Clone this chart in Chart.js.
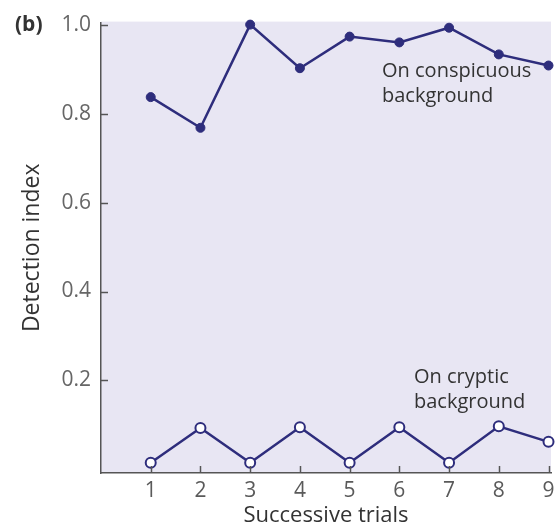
<!DOCTYPE html>
<html><head><meta charset="utf-8">
<script src="https://cdn.jsdelivr.net/npm/chart.js@4/dist/chart.umd.min.js"></script>
<style>html,body{margin:0;padding:0;background:#fff;}#wrap{width:558px;height:529px;position:relative;}</style>
</head><body><div id="wrap"><canvas id="c" width="558" height="529"></canvas></div>
<script>
const trials = [1, 2, 3, 4, 5, 6, 7, 8, 9];
const conspicuous = [0.837, 0.768, 1.0, 0.902, 0.973, 0.96, 0.993, 0.933, 0.908];
const cryptic = [0.015, 0.093, 0.015, 0.095, 0.015, 0.095, 0.015, 0.097, 0.062];
const yTicks = [0.2, 0.4, 0.6, 0.8, 1.0];
const panelLabel = "(b)";
const yTitle = "Detection index";
const xTitle = "Successive trials";
const noteTop = ["On conspicuous", "background"];
const noteBottom = ["On cryptic", "background"];

const NAVY = '#2e2d7c';
const FONT = "'Open Sans', 'Noto Sans', sans-serif";

const decor = {
  id: 'decor',
  beforeDraw(chart) {
    const {ctx, chartArea: a} = chart;
    ctx.save();
    ctx.fillStyle = '#e8e6f3';
    ctx.fillRect(a.left, a.top - 1, a.right - a.left, a.bottom - a.top + 1);
    ctx.restore();
  },
  afterDatasetsDraw(chart) {
    const {ctx, chartArea: a, scales} = chart;
    ctx.save();
    ctx.strokeStyle = '#555';
    ctx.lineWidth = 1.5;
    yTicks.forEach(v => {
      const y = Math.round(scales.y.getPixelForValue(v)) + 0.5;
      ctx.beginPath(); ctx.moveTo(a.left, y); ctx.lineTo(a.left + 7, y); ctx.stroke();
    });
    trials.forEach(v => {
      const x = Math.round(scales.x.getPixelForValue(v)) + 0.5;
      ctx.beginPath(); ctx.moveTo(x, a.bottom); ctx.lineTo(x, a.bottom - 7); ctx.stroke();
    });
    ctx.fillStyle = '#333';
    ctx.textBaseline = 'middle';
    ctx.textAlign = 'left';
    ctx.font = "bold 21px " + FONT;
    ctx.fillText(panelLabel, 15, 25);
    ctx.font = "20px " + FONT;
    ctx.fillText(noteTop[0], 382, 71);
    ctx.fillText(noteTop[1], 382, 96);
    ctx.fillText(noteBottom[0], 414, 377);
    ctx.fillText(noteBottom[1], 414, 402);
    ctx.restore();
  }
};

new Chart(document.getElementById('c'), {
  type: 'line',
  data: {
    datasets: [
      {
        label: 'On conspicuous background',
        data: trials.map((t, i) => ({x: t, y: conspicuous[i]})),
        borderColor: NAVY, backgroundColor: NAVY,
        borderWidth: 2.5, pointRadius: 4.5, pointBorderWidth: 1,
        pointBackgroundColor: NAVY, pointBorderColor: NAVY, clip: false
      },
      {
        label: 'On cryptic background',
        data: trials.map((t, i) => ({x: t, y: cryptic[i]})),
        borderColor: NAVY, backgroundColor: '#fff',
        borderWidth: 2.5, pointRadius: 5, pointBorderWidth: 2,
        pointBackgroundColor: '#fff', pointBorderColor: NAVY, clip: false
      }
    ]
  },
  options: {
    responsive: false, animation: false, devicePixelRatio: 1,
    layout: {padding: {left: 0, right: 0, top: 20, bottom: 0}},
    plugins: {legend: {display: false}, tooltip: {enabled: false}},
    scales: {
      x: {
        type: 'linear', min: 0, max: 9.05,
        afterBuildTicks: s => { s.ticks = trials.map(v => ({value: v})); },
        afterFit: s => { s.height = 56; s.paddingLeft = 0; s.paddingRight = 0; },
        grid: {display: false, drawTicks: false},
        border: {display: true, color: '#555', width: 1.5},
        ticks: {color: '#5a5a5a', font: {family: FONT, size: 21}, padding: 5, maxRotation: 0, autoSkip: false},
        title: {display: true, text: xTitle, color: '#333', font: {family: FONT, size: 22}, padding: {top: 0, bottom: 0}}
      },
      y: {
        type: 'linear', min: -0.008, max: 1.0045,
        afterBuildTicks: s => { s.ticks = yTicks.map(v => ({value: v})); },
        afterFit: s => { s.width = 101; },
        grid: {display: false, drawTicks: false},
        border: {display: true, color: '#555', width: 1.5},
        ticks: {color: '#666', font: {family: FONT, size: 21}, padding: 10, callback: v => Number(v).toFixed(1)},
        title: {display: true, text: yTitle, color: '#333', font: {family: FONT, size: 23}, padding: {top: 19, bottom: 0}}
      }
    }
  },
  plugins: [decor]
});
</script></body></html>
